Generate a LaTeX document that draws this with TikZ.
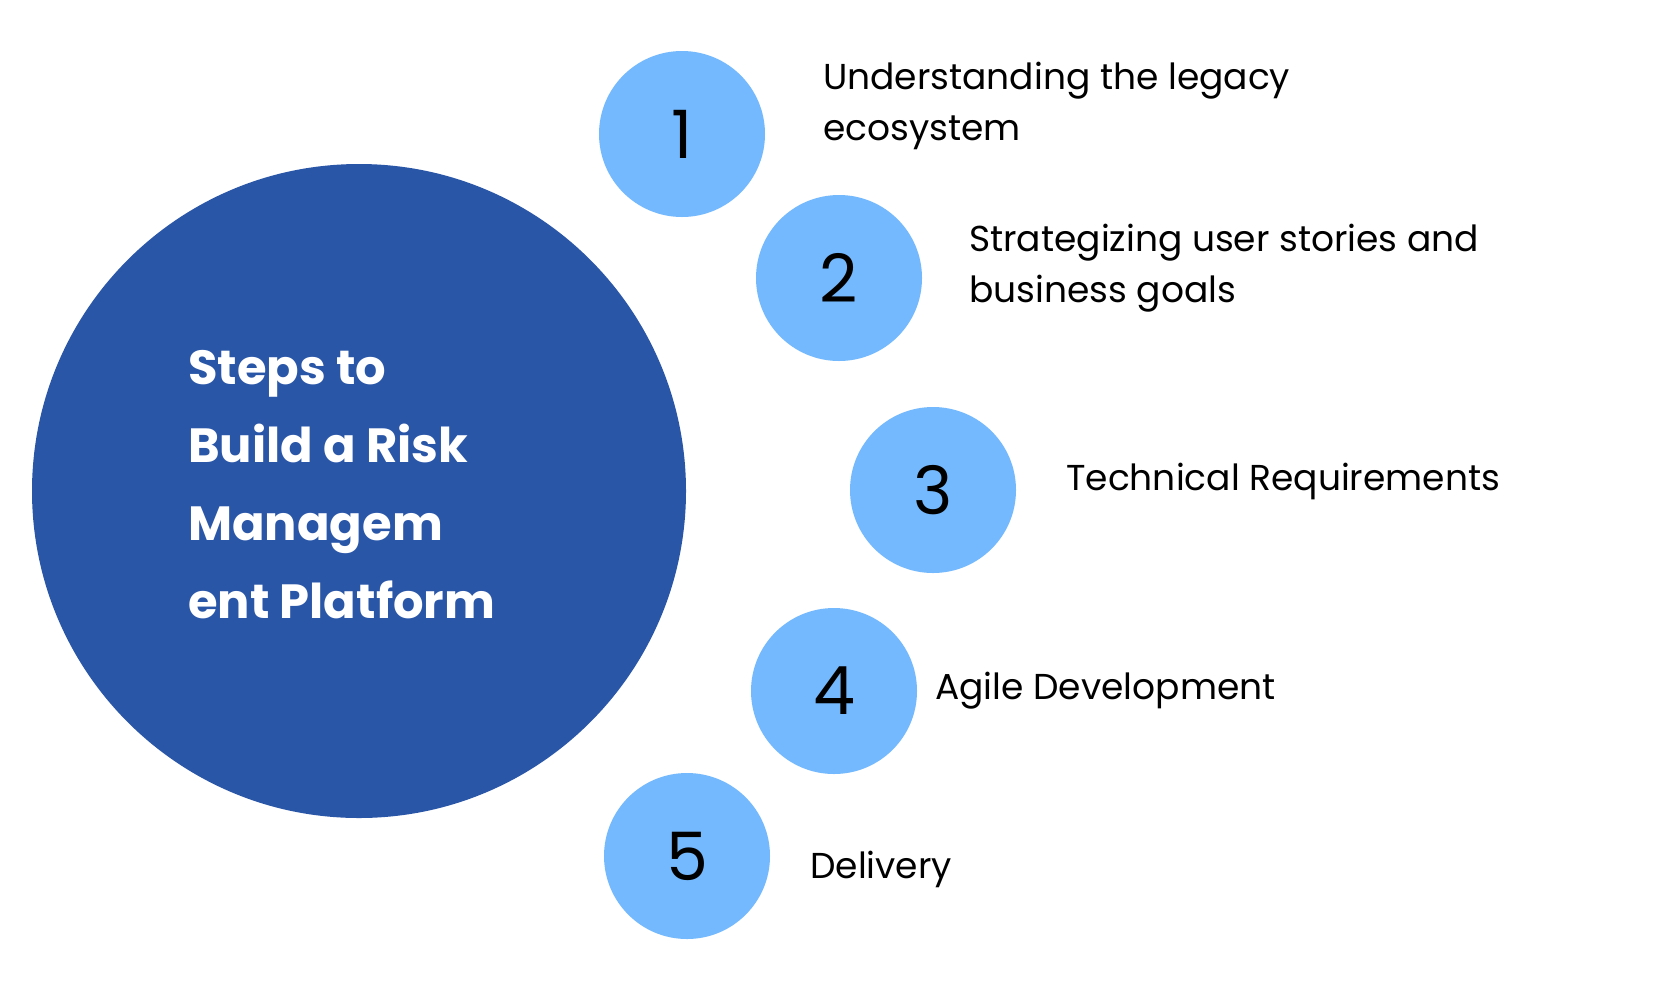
\documentclass[tikz,border=0pt]{standalone}
\usepackage{fontspec}
\setmainfont{Poppins}
\usetikzlibrary{positioning}
\definecolor{bigblue}{HTML}{2A56A8}
\definecolor{stepblue}{HTML}{74B9FD}
\tikzset{
  stepdot/.style={circle, fill=stepblue, minimum size=124.5pt, inner sep=0pt, font=\fontsize{50}{50}\selectfont},
  steptext/.style={anchor=west, align=left, inner sep=0pt, font=\fontsize{27}{38}\selectfont}
}
\begin{document}
\begin{tikzpicture}[x=0.75pt,y=-0.75pt]
  \useasboundingbox (0,0) rectangle (1666,983);
  \fill[white] (0,0) rectangle (1666,983);

  \node[circle, fill=bigblue, minimum size=490.5pt, inner sep=0pt] (hub) at (359,491) {};
  \node[anchor=west, align=left, text=white, inner sep=0pt,
        font=\fontsize{36}{58.5}\selectfont\bfseries] (title) at (188,485)
        {Steps to\\Build a Risk\\Managem\\ent Platform};

  \node[stepdot] (s1) at (682,134) {1};
  \node[stepdot] (s2) at (839,278) {2};
  \node[stepdot] (s3) at (933,490) {3};
  \node[stepdot] (s4) at (834,691) {4};
  \node[stepdot] (s5) at (687,856) {5};

  \node[steptext] (t1) at (823,106) {Understanding the legacy\\ecosystem};
  \node[steptext] (t2) at (969,268) {Strategizing user stories and\\business goals};
  \node[steptext] (t3) at (1066,481) {Technical Requirements};
  \node[steptext] (t4) at (935,691) {Agile Development};
  \node[steptext] (t5) at (810,869) {Delivery};
\end{tikzpicture}
\end{document}
